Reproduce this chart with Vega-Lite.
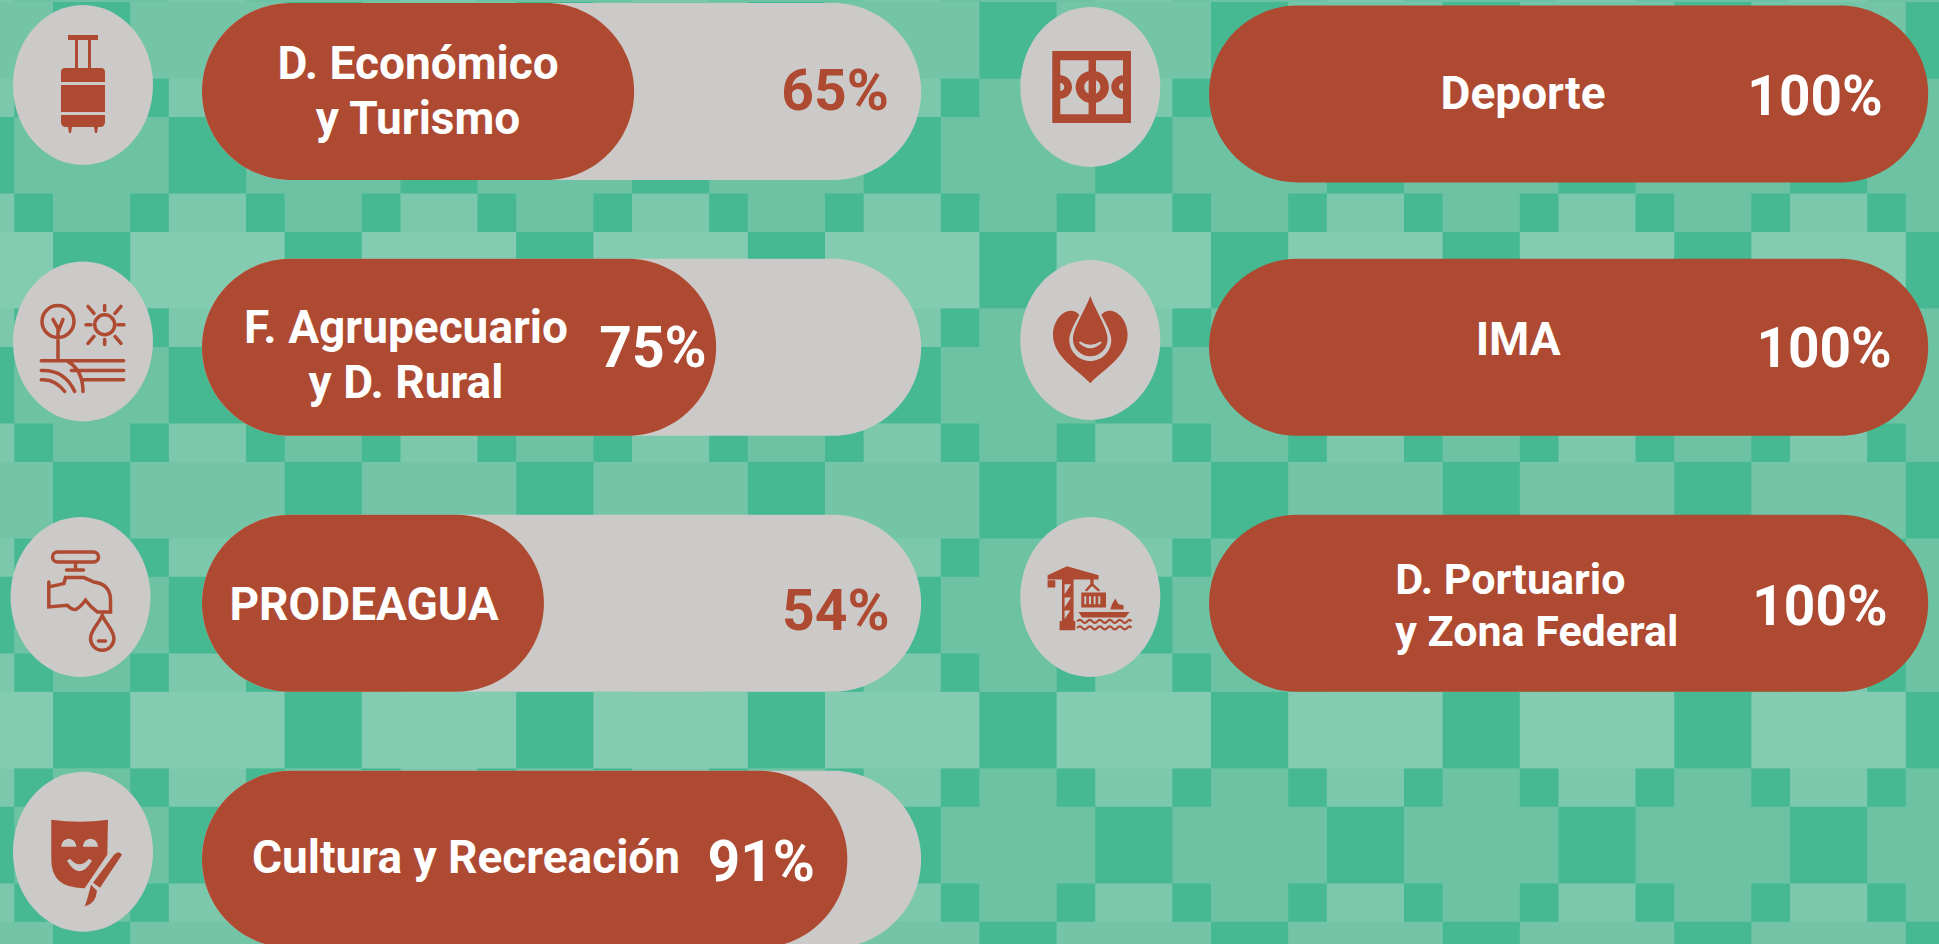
{
"$schema":"https://vega.github.io/schema/vega-lite/v6.json",
"width":1939,"height":944,"autosize":{"type":"none"},"padding":0,"background":"#6CC2A3",
"config":{"view":{"stroke":null},"axis":{"disable":true},"legend":{"disable":true}},
"datasets":{
"bars":[
{"panel":"left","category":"D. Económico\ny Turismo","value":65,"pct":"65%","row":1,"label_at":38.65,"label_row":0.897,"pct_at":89.5,"pct_row":1.006},
{"panel":"left","category":"F. Agrupecuario\ny D. Rural","value":75,"pct":"75%","row":2,"label_at":37.18,"label_row":1.928,"pct_at":67.3,"pct_row":2.01},
{"panel":"left","category":"PRODEAGUA","value":54,"pct":"54%","row":3,"label_at":32.06,"label_row":3.01,"pct_at":89.6,"pct_row":3.038},
{"panel":"left","category":"Cultura y Recreación","value":91,"pct":"91%","row":4,"label_at":44.5,"label_row":4.0,"pct_at":80.5,"pct_row":4.018},
{"panel":"right","category":"Deporte","value":100,"pct":"100%","row":1.01,"label_at":50.59,"label_row":1.014,"pct_at":86.2,"pct_row":1.026},
{"panel":"right","category":"IMA","value":100,"pct":"100%","row":2,"label_at":50,"label_row":1.975,"pct_at":87.3,"pct_row":2.01},
{"panel":"right","category":"D. Portuario\ny Zona Federal","value":100,"pct":"100%","row":3,"label_at":35,"label_row":2.912,"pct_at":86.8,"pct_row":3.018}
],
"icons":[
{"panel":"left","icon":"suitcase","style":"solid","at":-2.21,"row":0.975},
{"panel":"left","icon":"agro","style":"line","at":-2.21,"row":1.977},
{"panel":"left","icon":"tap","style":"line","at":-2.51,"row":2.975},
{"panel":"left","icon":"mask","style":"solid","at":-2.21,"row":3.971},
{"panel":"right","icon":"court","style":"solid","at":-2.18,"row":0.983},
{"panel":"right","icon":"heart","style":"solid","at":-2.18,"row":1.971},
{"panel":"right","icon":"port","style":"solid","at":-2.18,"row":2.975},
{"panel":"right","icon":"waves","style":"line","at":-2.18,"row":2.975}
],
"light":[
{"x0":-3,"x1":-1,"y0":-1,"y1":26,"tone":"strip"},{"x0":3,"x1":5,"y0":-1,"y1":26,"tone":"strip"},{"x0":9,"x1":11,"y0":-1,"y1":26,"tone":"strip"},{"x0":15,"x1":17,"y0":-1,"y1":26,"tone":"strip"},{"x0":21,"x1":23,"y0":-1,"y1":26,"tone":"strip"},{"x0":27,"x1":29,"y0":-1,"y1":26,"tone":"strip"},{"x0":33,"x1":35,"y0":-1,"y1":26,"tone":"strip"},{"x0":39,"x1":41,"y0":-1,"y1":26,"tone":"strip"},{"x0":45,"x1":47,"y0":-1,"y1":26,"tone":"strip"},
{"x0":-2,"x1":49,"y0":0,"y1":2,"tone":"soft"},{"x0":-2,"x1":49,"y0":6,"y1":8,"tone":"bright"},{"x0":-2,"x1":49,"y0":12,"y1":14,"tone":"soft"},{"x0":-2,"x1":49,"y0":18,"y1":20,"tone":"bright"},{"x0":-2,"x1":49,"y0":24,"y1":26,"tone":"soft"}
],
"dark":[
{"x0":0,"x1":2,"y0":0,"y1":2},{"x0":6,"x1":8,"y0":0,"y1":2},{"x0":12,"x1":14,"y0":0,"y1":2},{"x0":18,"x1":20,"y0":0,"y1":2},{"x0":24,"x1":26,"y0":0,"y1":2},{"x0":30,"x1":32,"y0":0,"y1":2},{"x0":36,"x1":38,"y0":0,"y1":2},{"x0":42,"x1":44,"y0":0,"y1":2},{"x0":48,"x1":50,"y0":0,"y1":2},
{"x0":0,"x1":2,"y0":6,"y1":8},{"x0":6,"x1":8,"y0":6,"y1":8},{"x0":12,"x1":14,"y0":6,"y1":8},{"x0":18,"x1":20,"y0":6,"y1":8},{"x0":24,"x1":26,"y0":6,"y1":8},{"x0":30,"x1":32,"y0":6,"y1":8},{"x0":36,"x1":38,"y0":6,"y1":8},{"x0":42,"x1":44,"y0":6,"y1":8},{"x0":48,"x1":50,"y0":6,"y1":8},
{"x0":0,"x1":2,"y0":12,"y1":14},{"x0":6,"x1":8,"y0":12,"y1":14},{"x0":12,"x1":14,"y0":12,"y1":14},{"x0":18,"x1":20,"y0":12,"y1":14},{"x0":24,"x1":26,"y0":12,"y1":14},{"x0":30,"x1":32,"y0":12,"y1":14},{"x0":36,"x1":38,"y0":12,"y1":14},{"x0":42,"x1":44,"y0":12,"y1":14},{"x0":48,"x1":50,"y0":12,"y1":14},
{"x0":0,"x1":2,"y0":18,"y1":20},{"x0":6,"x1":8,"y0":18,"y1":20},{"x0":12,"x1":14,"y0":18,"y1":20},{"x0":18,"x1":20,"y0":18,"y1":20},{"x0":24,"x1":26,"y0":18,"y1":20},{"x0":30,"x1":32,"y0":18,"y1":20},{"x0":36,"x1":38,"y0":18,"y1":20},{"x0":42,"x1":44,"y0":18,"y1":20},{"x0":48,"x1":50,"y0":18,"y1":20},
{"x0":0,"x1":2,"y0":24,"y1":26},{"x0":6,"x1":8,"y0":24,"y1":26},{"x0":12,"x1":14,"y0":24,"y1":26},{"x0":18,"x1":20,"y0":24,"y1":26},{"x0":24,"x1":26,"y0":24,"y1":26},{"x0":30,"x1":32,"y0":24,"y1":26},{"x0":36,"x1":38,"y0":24,"y1":26},{"x0":42,"x1":44,"y0":24,"y1":26},{"x0":48,"x1":50,"y0":24,"y1":26},
{"x0":-3,"x1":-1,"y0":3,"y1":5},{"x0":3,"x1":5,"y0":3,"y1":5},{"x0":9,"x1":11,"y0":3,"y1":5},{"x0":15,"x1":17,"y0":3,"y1":5},{"x0":21,"x1":23,"y0":3,"y1":5},{"x0":27,"x1":29,"y0":3,"y1":5},{"x0":33,"x1":35,"y0":3,"y1":5},{"x0":39,"x1":41,"y0":3,"y1":5},{"x0":45,"x1":47,"y0":3,"y1":5},
{"x0":-3,"x1":-1,"y0":9,"y1":11},{"x0":3,"x1":5,"y0":9,"y1":11},{"x0":9,"x1":11,"y0":9,"y1":11},{"x0":15,"x1":17,"y0":9,"y1":11},{"x0":21,"x1":23,"y0":9,"y1":11},{"x0":27,"x1":29,"y0":9,"y1":11},{"x0":33,"x1":35,"y0":9,"y1":11},{"x0":39,"x1":41,"y0":9,"y1":11},{"x0":45,"x1":47,"y0":9,"y1":11},
{"x0":-3,"x1":-1,"y0":15,"y1":17},{"x0":3,"x1":5,"y0":15,"y1":17},{"x0":9,"x1":11,"y0":15,"y1":17},{"x0":15,"x1":17,"y0":15,"y1":17},{"x0":21,"x1":23,"y0":15,"y1":17},{"x0":27,"x1":29,"y0":15,"y1":17},{"x0":33,"x1":35,"y0":15,"y1":17},{"x0":39,"x1":41,"y0":15,"y1":17},{"x0":45,"x1":47,"y0":15,"y1":17},
{"x0":-3,"x1":-1,"y0":21,"y1":23},{"x0":3,"x1":5,"y0":21,"y1":23},{"x0":9,"x1":11,"y0":21,"y1":23},{"x0":15,"x1":17,"y0":21,"y1":23},{"x0":21,"x1":23,"y0":21,"y1":23},{"x0":27,"x1":29,"y0":21,"y1":23},{"x0":33,"x1":35,"y0":21,"y1":23},{"x0":39,"x1":41,"y0":21,"y1":23},{"x0":45,"x1":47,"y0":21,"y1":23},
{"x0":-1,"x1":0,"y0":2,"y1":3},{"x0":2,"x1":3,"y0":2,"y1":3},{"x0":5,"x1":6,"y0":2,"y1":3},{"x0":8,"x1":9,"y0":2,"y1":3},{"x0":11,"x1":12,"y0":2,"y1":3},{"x0":14,"x1":15,"y0":2,"y1":3},{"x0":17,"x1":18,"y0":2,"y1":3},{"x0":20,"x1":21,"y0":2,"y1":3},{"x0":23,"x1":24,"y0":2,"y1":3},{"x0":26,"x1":27,"y0":2,"y1":3},{"x0":29,"x1":30,"y0":2,"y1":3},{"x0":32,"x1":33,"y0":2,"y1":3},{"x0":35,"x1":36,"y0":2,"y1":3},{"x0":38,"x1":39,"y0":2,"y1":3},{"x0":41,"x1":42,"y0":2,"y1":3},{"x0":44,"x1":45,"y0":2,"y1":3},{"x0":47,"x1":48,"y0":2,"y1":3},
{"x0":-1,"x1":0,"y0":5,"y1":6},{"x0":2,"x1":3,"y0":5,"y1":6},{"x0":5,"x1":6,"y0":5,"y1":6},{"x0":8,"x1":9,"y0":5,"y1":6},{"x0":11,"x1":12,"y0":5,"y1":6},{"x0":14,"x1":15,"y0":5,"y1":6},{"x0":17,"x1":18,"y0":5,"y1":6},{"x0":20,"x1":21,"y0":5,"y1":6},{"x0":23,"x1":24,"y0":5,"y1":6},{"x0":26,"x1":27,"y0":5,"y1":6},{"x0":29,"x1":30,"y0":5,"y1":6},{"x0":32,"x1":33,"y0":5,"y1":6},{"x0":35,"x1":36,"y0":5,"y1":6},{"x0":38,"x1":39,"y0":5,"y1":6},{"x0":41,"x1":42,"y0":5,"y1":6},{"x0":44,"x1":45,"y0":5,"y1":6},{"x0":47,"x1":48,"y0":5,"y1":6},
{"x0":-1,"x1":0,"y0":8,"y1":9},{"x0":2,"x1":3,"y0":8,"y1":9},{"x0":5,"x1":6,"y0":8,"y1":9},{"x0":8,"x1":9,"y0":8,"y1":9},{"x0":11,"x1":12,"y0":8,"y1":9},{"x0":14,"x1":15,"y0":8,"y1":9},{"x0":17,"x1":18,"y0":8,"y1":9},{"x0":20,"x1":21,"y0":8,"y1":9},{"x0":23,"x1":24,"y0":8,"y1":9},{"x0":26,"x1":27,"y0":8,"y1":9},{"x0":29,"x1":30,"y0":8,"y1":9},{"x0":32,"x1":33,"y0":8,"y1":9},{"x0":35,"x1":36,"y0":8,"y1":9},{"x0":38,"x1":39,"y0":8,"y1":9},{"x0":41,"x1":42,"y0":8,"y1":9},{"x0":44,"x1":45,"y0":8,"y1":9},{"x0":47,"x1":48,"y0":8,"y1":9},
{"x0":-1,"x1":0,"y0":11,"y1":12},{"x0":2,"x1":3,"y0":11,"y1":12},{"x0":5,"x1":6,"y0":11,"y1":12},{"x0":8,"x1":9,"y0":11,"y1":12},{"x0":11,"x1":12,"y0":11,"y1":12},{"x0":14,"x1":15,"y0":11,"y1":12},{"x0":17,"x1":18,"y0":11,"y1":12},{"x0":20,"x1":21,"y0":11,"y1":12},{"x0":23,"x1":24,"y0":11,"y1":12},{"x0":26,"x1":27,"y0":11,"y1":12},{"x0":29,"x1":30,"y0":11,"y1":12},{"x0":32,"x1":33,"y0":11,"y1":12},{"x0":35,"x1":36,"y0":11,"y1":12},{"x0":38,"x1":39,"y0":11,"y1":12},{"x0":41,"x1":42,"y0":11,"y1":12},{"x0":44,"x1":45,"y0":11,"y1":12},{"x0":47,"x1":48,"y0":11,"y1":12},
{"x0":-1,"x1":0,"y0":14,"y1":15},{"x0":2,"x1":3,"y0":14,"y1":15},{"x0":5,"x1":6,"y0":14,"y1":15},{"x0":8,"x1":9,"y0":14,"y1":15},{"x0":11,"x1":12,"y0":14,"y1":15},{"x0":14,"x1":15,"y0":14,"y1":15},{"x0":17,"x1":18,"y0":14,"y1":15},{"x0":20,"x1":21,"y0":14,"y1":15},{"x0":23,"x1":24,"y0":14,"y1":15},{"x0":26,"x1":27,"y0":14,"y1":15},{"x0":29,"x1":30,"y0":14,"y1":15},{"x0":32,"x1":33,"y0":14,"y1":15},{"x0":35,"x1":36,"y0":14,"y1":15},{"x0":38,"x1":39,"y0":14,"y1":15},{"x0":41,"x1":42,"y0":14,"y1":15},{"x0":44,"x1":45,"y0":14,"y1":15},{"x0":47,"x1":48,"y0":14,"y1":15},
{"x0":-1,"x1":0,"y0":17,"y1":18},{"x0":2,"x1":3,"y0":17,"y1":18},{"x0":5,"x1":6,"y0":17,"y1":18},{"x0":8,"x1":9,"y0":17,"y1":18},{"x0":11,"x1":12,"y0":17,"y1":18},{"x0":14,"x1":15,"y0":17,"y1":18},{"x0":17,"x1":18,"y0":17,"y1":18},{"x0":20,"x1":21,"y0":17,"y1":18},{"x0":23,"x1":24,"y0":17,"y1":18},{"x0":26,"x1":27,"y0":17,"y1":18},{"x0":29,"x1":30,"y0":17,"y1":18},{"x0":32,"x1":33,"y0":17,"y1":18},{"x0":35,"x1":36,"y0":17,"y1":18},{"x0":38,"x1":39,"y0":17,"y1":18},{"x0":41,"x1":42,"y0":17,"y1":18},{"x0":44,"x1":45,"y0":17,"y1":18},{"x0":47,"x1":48,"y0":17,"y1":18},
{"x0":-1,"x1":0,"y0":20,"y1":21},{"x0":2,"x1":3,"y0":20,"y1":21},{"x0":5,"x1":6,"y0":20,"y1":21},{"x0":8,"x1":9,"y0":20,"y1":21},{"x0":11,"x1":12,"y0":20,"y1":21},{"x0":14,"x1":15,"y0":20,"y1":21},{"x0":17,"x1":18,"y0":20,"y1":21},{"x0":20,"x1":21,"y0":20,"y1":21},{"x0":23,"x1":24,"y0":20,"y1":21},{"x0":26,"x1":27,"y0":20,"y1":21},{"x0":29,"x1":30,"y0":20,"y1":21},{"x0":32,"x1":33,"y0":20,"y1":21},{"x0":35,"x1":36,"y0":20,"y1":21},{"x0":38,"x1":39,"y0":20,"y1":21},{"x0":41,"x1":42,"y0":20,"y1":21},{"x0":44,"x1":45,"y0":20,"y1":21},{"x0":47,"x1":48,"y0":20,"y1":21},
{"x0":-1,"x1":0,"y0":23,"y1":24},{"x0":2,"x1":3,"y0":23,"y1":24},{"x0":5,"x1":6,"y0":23,"y1":24},{"x0":8,"x1":9,"y0":23,"y1":24},{"x0":11,"x1":12,"y0":23,"y1":24},{"x0":14,"x1":15,"y0":23,"y1":24},{"x0":17,"x1":18,"y0":23,"y1":24},{"x0":20,"x1":21,"y0":23,"y1":24},{"x0":23,"x1":24,"y0":23,"y1":24},{"x0":26,"x1":27,"y0":23,"y1":24},{"x0":29,"x1":30,"y0":23,"y1":24},{"x0":32,"x1":33,"y0":23,"y1":24},{"x0":35,"x1":36,"y0":23,"y1":24},{"x0":38,"x1":39,"y0":23,"y1":24},{"x0":41,"x1":42,"y0":23,"y1":24},{"x0":44,"x1":45,"y0":23,"y1":24},{"x0":47,"x1":48,"y0":23,"y1":24}
]
},
"layer":[
{"layer":[
{"data":{"name":"light"},"mark":{"type":"rect","clip":true},"encoding":{
"x":{"field":"x0","type":"quantitative","scale":{"domain":[-1.373,48.86],"nice":false,"zero":false}},"x2":{"field":"x1"},
"y":{"field":"y0","type":"quantitative","scale":{"domain":[-0.052,24.58],"reverse":true,"nice":false,"zero":false}},"y2":{"field":"y1"},
"color":{"field":"tone","type":"nominal","scale":{"domain":["strip","soft","bright"],"range":["#7CC8AC","#74C5A8","#84CCB1"]}}}},
{"data":{"name":"dark"},"mark":{"type":"rect","color":"#46B992","clip":true},"encoding":{
"x":{"field":"x0","type":"quantitative"},"x2":{"field":"x1"},
"y":{"field":"y0","type":"quantitative"},"y2":{"field":"y1"}}}
]},
{"layer":[
{"data":{"name":"bars"},"transform":[{"filter":"datum.panel==='left'"}],"mark":{"type":"bar","clip":true,"orient":"horizontal","size":177,"cornerRadius":88.5,"color":"#CBCAC8"},"encoding":{
"x":{"datum":100,"type":"quantitative","scale":{"domain":[-12.33,224.13],"nice":false,"zero":false}},"x2":{"datum":12.3},
"y":{"field":"row","type":"quantitative","scale":{"domain":[0.643,4.331],"reverse":true,"nice":false,"zero":false,"padding":0}}}},
{"data":{"name":"bars"},"transform":[{"filter":"datum.panel==='left'"}],"mark":{"type":"bar","clip":true,"orient":"horizontal","size":177,"cornerRadius":88.5,"color":"#AE4A31"},"encoding":{
"x":{"field":"value","type":"quantitative"},"x2":{"datum":12.3},
"y":{"field":"row","type":"quantitative"}}},
{"data":{"name":"icons"},"transform":[{"filter":"datum.panel==='left'"}],"mark":{"type":"point","clip":true,"filled":true,"opacity":1,"size":40000,"color":"#CBCAC8","shape":"M-.7 0A.7 .8 0 1 1 .7 0A.7 .8 0 1 1 -.7 0Z"},"encoding":{
"x":{"field":"at","type":"quantitative"},"y":{"field":"row","type":"quantitative"}}},
{"data":{"name":"icons"},"transform":[{"filter":"datum.panel==='left' && datum.style==='solid'"}],"mark":{"type":"point","filled":true,"opacity":1,"size":40000,"color":"#AE4A31"},"encoding":{
"x":{"field":"at","type":"quantitative"},"y":{"field":"row","type":"quantitative"},
"shape":{"field":"icon","type":"nominal","scale":{"domain":["suitcase","mask","court","heart","port","agro","tap","waves"],"range":[
"M-.15 -.5L.15 -.5L.15 -.45L-.15 -.45ZM-.08 -.45L-.05 -.45L-.05 -.17L-.08 -.17ZM.05 -.45L.08 -.45L.08 -.17L.05 -.17ZM-.18 -.17L.18 -.17Q.22 -.17 .22 -.13L.22 -.03L-.22 -.03L-.22 -.13Q-.22 -.17 -.18 -.17ZM-.22 0L.22 0L.22 .27L-.22 .27ZM-.22 .3L.22 .3L.22 .37Q.22 .42 .17 .42L-.17 .42Q-.22 .42 -.22 .37ZM-.15 .42L-.11 .42L-.12 .48L-.14 .48ZM.11 .42L.15 .42L.14 .48L.12 .48Z",
"M-.317 -.32Q-.033 -.28 .25 -.32L.243 .03L.017 .363Q-.317 .37 -.317 .08ZM-.217 -.05L-.067 -.05A.075 .08 0 0 0 -.217 -.05ZM0 -.05L.15 -.05A.075 .08 0 0 0 0 -.05ZM-.16 .09Q-.035 .3 .09 .09L.06 .07Q-.035 .18 -.13 .07ZM.31 .03Q.36 -.02 .39 .03L.17 .36L.1 .31ZM.08 .33L.14 .39Q.13 .52 .017 .547Q.05 .46 .08 .33Z",
"M-.38 -.36L.407 -.36L.407 .36L-.38 .36ZM-.3 -.267L-.3 -.117A.117 .117 0 0 1 -.3 .117L-.3 .273L-.017 .273L-.017 .157A.16 .16 0 0 1 -.017 -.157L-.017 -.267ZM.057 -.267L.057 -.157A.16 .16 0 0 1 .057 .157L.057 .273L.327 .273L.327 .117A.117 .117 0 0 1 .327 -.117L.327 -.267ZM-.017 -.067A.073 .073 0 0 0 -.017 .067ZM.057 .067A.073 .073 0 0 0 .057 -.067ZM-.3 .04A.04 .04 0 0 0 -.3 -.04ZM.327 -.04A.04 .04 0 0 0 .327 .04Z",
"M0 .433C-.12 .3 -.373 .17 -.373 -.05C-.373 -.24 -.2 -.36 -.11 -.25C-.16 -.16 -.21 -.07 -.21 0A.21 .21 0 0 0 .21 0C.21 -.07 .16 -.16 .11 -.25C.2 -.36 .373 -.24 .373 -.05C.373 .17 .12 .3 0 .433ZM0 -.44C.05 -.3 .173 -.12 .173 -.01A.173 .173 0 0 1 -.173 -.01C-.173 -.12 -.05 -.3 0 -.44ZM-.117 .025Q0 .14 .117 .025L.1 .015Q0 .08 -.1 .015Z",
"M-.427 -.217L-.233 -.307L.083 -.217L.083 -.173L-.427 -.173ZM-.427 -.167L-.35 -.167L-.35 -.093L-.427 -.093ZM-.283 -.173L-.167 -.173L-.167 .24L-.283 .24ZM-.257 -.127L-.257 -.027L-.193 -.127ZM-.257 .007L-.257 .107L-.193 .007ZM-.257 .137L-.257 .22L-.2 .137ZM-.307 .24L-.15 .24L-.15 .333L-.307 .333ZM0 -.173L.033 -.173L.033 -.13L.1 -.067L.08 -.055L.017 -.11L-.035 -.055L-.055 -.067L0 -.13ZM-.09 -.043L.157 -.043L.157 .107L-.09 .107ZM-.06 -.007L-.06 .073L-.04 .073L-.04 -.007ZM-.013 -.007L-.013 .073L.007 .073L.007 -.007ZM.033 -.007L.033 .073L.053 .073L.053 -.007ZM.08 -.007L.08 .073L.1 .073L.1 -.007ZM-.117 .15L.393 .15L.35 .207L-.083 .207ZM.2 .127L.217 .073L.25 .017L.283 .073L.333 .083L.333 .127Z",
"M-.41 -.2A.16 .16 0 1 1 -.09 -.2A.16 .16 0 1 1 -.41 -.2ZM-.25 -.15L-.25 .19M-.25 -.09L-.2 -.22M-.25 -.13L-.3 -.22M.117 -.167A.1 .1 0 1 1 .317 -.167A.1 .1 0 1 1 .117 -.167ZM.217 -.36L.217 -.31M.217 -.02L.217 .03M.03 -.167L.08 -.167M.35 -.167L.41 -.167M.05 -.35L.11 -.28M.38 -.35L.32 -.28M.05 .02L.11 -.05M.38 .02L.32 -.05M-.417 .193L.407 .193M-.117 .29L.407 .29M0 .383L.407 .383M-.417 .29Q-.183 .28 -.083 .5M-.417 .383Q-.283 .37 -.183 .5M-.15 .2Q0 .29 0 .5",
"M-.23 -.45L.13 -.45A.05 .05 0 0 1 .13 -.35L-.23 -.35A.05 .05 0 0 1 -.23 -.45ZM-.05 -.35L-.05 -.27M-.14 -.27L.03 -.27M-.317 -.15L-.317 .1L-.133 .083Q-.09 .127 -.05 .127Q0 .1 .05 .033Q.1 .1 .167 .15L.3 .15L.3 .033Q.3 -.13 .13 -.15L.033 -.193L-.15 -.193L-.167 -.133L-.317 -.1M.217 .183C.19 .26 .1 .33 .1 .417A.117 .117 0 0 0 .334 .417C.334 .33 .244 .26 .217 .183ZM.18 .44L.25 .44",
"M-.13 .245Q-.105 .215 -.08 .245T-.03 .245T.02 .245T.07 .245T.12 .245T.17 .245T.22 .245T.27 .245T.32 .245T.37 .245T.41 .245M-.13 .31Q-.105 .28 -.08 .31T-.03 .31T.02 .31T.07 .31T.12 .31T.17 .31T.22 .31T.27 .31T.32 .31T.37 .31T.41 .31"
]}}}},
{"data":{"name":"icons"},"transform":[{"filter":"datum.panel==='left' && datum.style==='line'"}],"mark":{"type":"point","filled":false,"opacity":1,"size":40000,"stroke":"#AE4A31","strokeWidth":3.5,"strokeCap":"round"},"encoding":{
"x":{"field":"at","type":"quantitative"},"y":{"field":"row","type":"quantitative"},
"shape":{"field":"icon","type":"nominal"}}},
{"data":{"name":"bars"},"transform":[{"filter":"datum.panel==='left'"}],"mark":{"type":"text","font":"Roboto","fontWeight":700,"fontSize":46,"lineBreak":"\n","lineHeight":55,"align":"center","baseline":"middle","color":"white"},"encoding":{
"x":{"field":"label_at","type":"quantitative"},"y":{"field":"label_row","type":"quantitative"},"text":{"field":"category","type":"nominal"}}},
{"data":{"name":"bars"},"transform":[{"filter":"datum.panel==='left'"}],"mark":{"type":"text","font":"Roboto","fontWeight":700,"fontSize":57,"align":"center","baseline":"middle"},"encoding":{
"x":{"field":"pct_at","type":"quantitative"},"y":{"field":"pct_row","type":"quantitative"},"text":{"field":"pct","type":"nominal"},
"color":{"condition":{"test":"datum.value<70","value":"#AE4A31"},"value":"white"}}}
]},
{"layer":[
{"data":{"name":"bars"},"transform":[{"filter":"datum.panel==='right'"}],"mark":{"type":"bar","clip":true,"orient":"horizontal","size":177,"cornerRadius":88.5,"color":"#AE4A31"},"encoding":{
"x":{"field":"value","type":"quantitative","scale":{"domain":[-135.14,101.32],"nice":false,"zero":false}},"x2":{"datum":12.3},
"y":{"field":"row","type":"quantitative","scale":{"domain":[0.643,4.331],"reverse":true,"nice":false,"zero":false,"padding":0}}}},
{"data":{"name":"icons"},"transform":[{"filter":"datum.panel==='right' && datum.icon!=='waves'"}],"mark":{"type":"point","filled":true,"opacity":1,"size":40000,"color":"#CBCAC8","shape":"M-.7 0A.7 .8 0 1 1 .7 0A.7 .8 0 1 1 -.7 0Z"},"encoding":{
"x":{"field":"at","type":"quantitative"},"y":{"field":"row","type":"quantitative"}}},
{"data":{"name":"icons"},"transform":[{"filter":"datum.panel==='right' && datum.style==='solid'"}],"mark":{"type":"point","filled":true,"opacity":1,"size":40000,"color":"#AE4A31"},"encoding":{
"x":{"field":"at","type":"quantitative"},"y":{"field":"row","type":"quantitative"},
"shape":{"field":"icon","type":"nominal"}}},
{"data":{"name":"icons"},"transform":[{"filter":"datum.panel==='right' && datum.style==='line'"}],"mark":{"type":"point","filled":false,"opacity":1,"size":40000,"stroke":"#AE4A31","strokeWidth":2.2},"encoding":{
"x":{"field":"at","type":"quantitative"},"y":{"field":"row","type":"quantitative"},
"shape":{"field":"icon","type":"nominal"}}},
{"data":{"name":"bars"},"transform":[{"filter":"datum.panel==='right' && datum.category!=='D. Portuario\\ny Zona Federal'"}],"mark":{"type":"text","font":"Roboto","fontWeight":700,"fontSize":46,"align":"center","baseline":"middle","color":"white"},"encoding":{
"x":{"field":"label_at","type":"quantitative"},"y":{"field":"label_row","type":"quantitative"},"text":{"field":"category","type":"nominal"}}},
{"data":{"name":"bars"},"transform":[{"filter":"datum.category==='D. Portuario\\ny Zona Federal'"}],"mark":{"type":"text","font":"Roboto","fontWeight":700,"fontSize":43,"lineBreak":"\n","lineHeight":52,"align":"left","baseline":"middle","color":"white"},"encoding":{
"x":{"field":"label_at","type":"quantitative"},"y":{"field":"label_row","type":"quantitative"},"text":{"field":"category","type":"nominal"}}},
{"data":{"name":"bars"},"transform":[{"filter":"datum.panel==='right'"}],"mark":{"type":"text","font":"Roboto","fontWeight":700,"fontSize":55,"align":"center","baseline":"middle","color":"white"},"encoding":{
"x":{"field":"pct_at","type":"quantitative"},"y":{"field":"pct_row","type":"quantitative"},"text":{"field":"pct","type":"nominal"}}}
]}
],
"resolve":{"scale":{"x":"independent","y":"independent"}}
}
